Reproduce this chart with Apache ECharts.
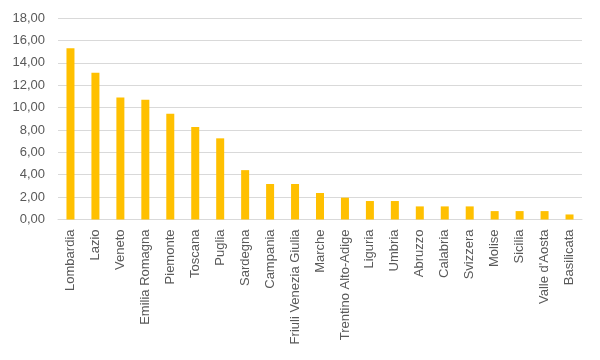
<!DOCTYPE html>
<html>
<head>
<meta charset="utf-8">
<script src="https://cdn.jsdelivr.net/npm/echarts@6/dist/echarts.min.js"></script>
<style>html,body{margin:0;padding:0;background:#fff}#c{width:600px;height:360px}</style>
</head>
<body>
<div id="c"></div>
<script>
var categories = ["Lombardia","Lazio","Veneto","Emilia Romagna","Piemonte","Toscana","Puglia","Sardegna","Campania","Friuli Venezia Giulia","Marche","Trentino Alto-Adige","Liguria","Umbria","Abruzzo","Calabria","Svizzera","Molise","Sicilia","Valle d'Aosta","Basilicata"];
var values = [15.3,13.1,10.9,10.7,9.45,8.27,7.25,4.41,3.17,3.17,2.37,1.95,1.65,1.65,1.17,1.17,1.17,0.75,0.75,0.75,0.45];
var yMin = 0, yMax = 18, yStep = 2;

var chart = echarts.init(document.getElementById('c'), null, {renderer:'canvas'});
chart.setOption({
  animation: false,
  backgroundColor: '#ffffff',
  grid: {left: 58, right: 18, top: 18, bottom: 140.5, containLabel: false},
  xAxis: {
    type: 'category',
    data: categories,
    axisLine: {show: true, lineStyle: {color: '#d9d9d9', width: 1}},
    axisTick: {show: false},
    axisLabel: {rotate: 90, interval: 0, margin: 10, color: '#595959', fontFamily: 'Liberation Sans', fontSize: 13}
  },
  yAxis: {
    type: 'value',
    min: yMin, max: yMax, interval: yStep,
    axisLine: {show: false},
    axisTick: {show: false},
    splitLine: {lineStyle: {color: '#d9d9d9', width: 1}},
    axisLabel: {margin: 13, color: '#595959', fontFamily: 'Liberation Sans', fontSize: 13,
      formatter: function(v){ return v.toFixed(2).replace('.', ','); }}
  },
  series: [{
    type: 'bar',
    data: values,
    barWidth: 8,
    itemStyle: {color: '#FFC000'}
  }]
});
</script>
</body>
</html>
